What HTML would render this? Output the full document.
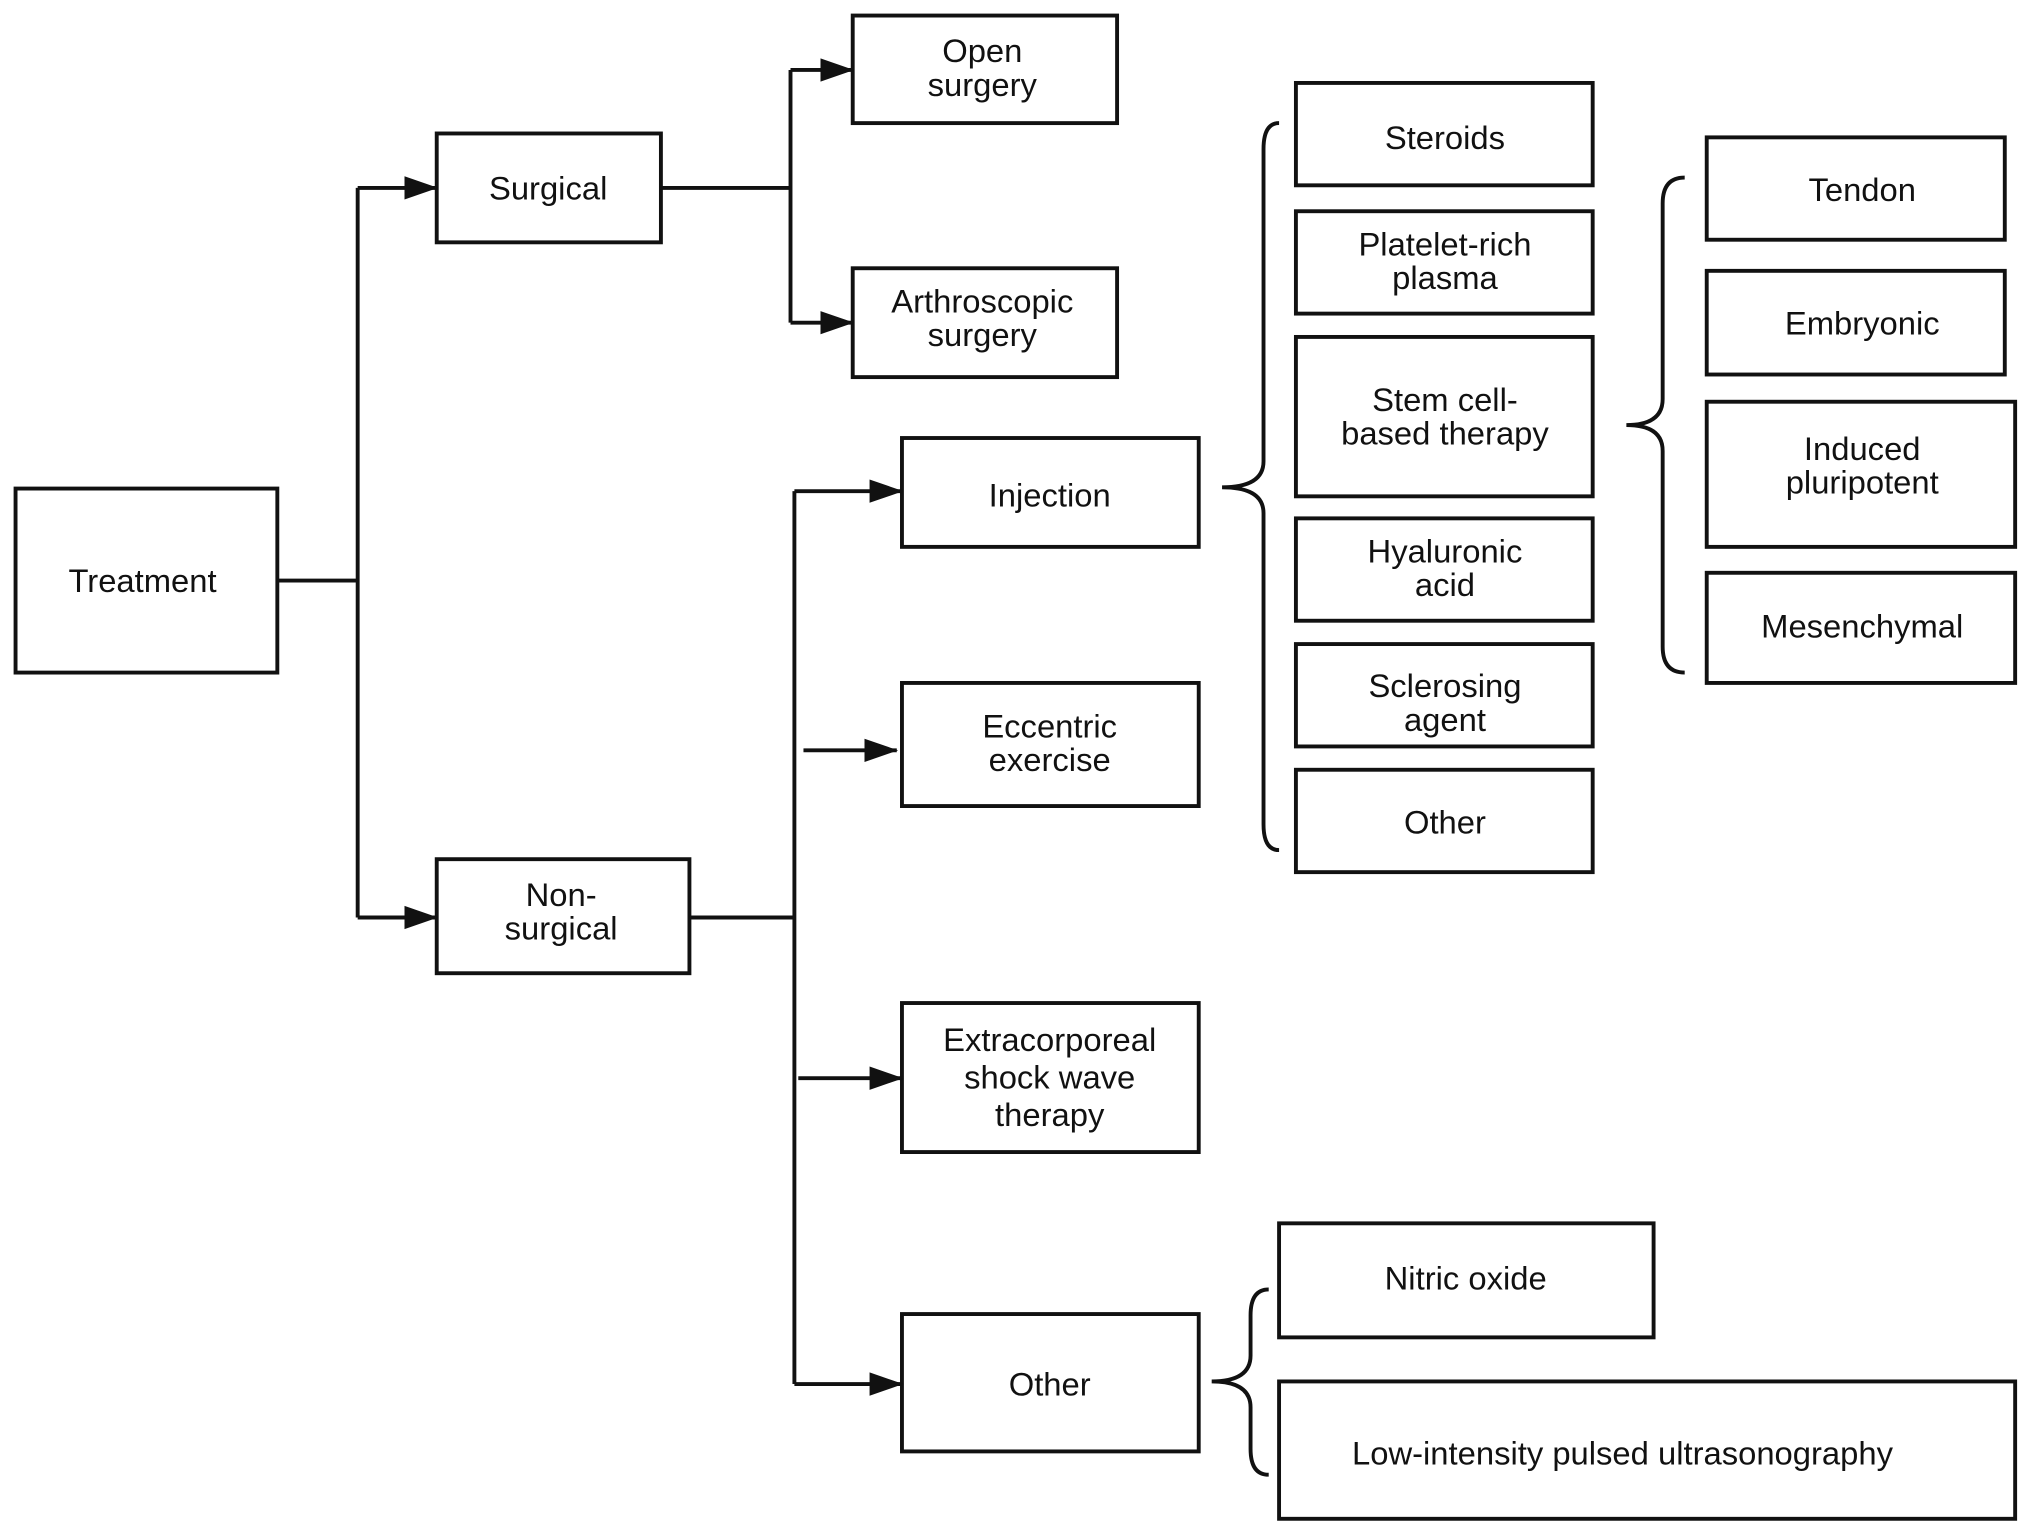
<!DOCTYPE html>
<html><head><meta charset="utf-8"><style>
html,body{margin:0;padding:0;background:#fff;}
svg{display:block;}
text{font-family:"Liberation Sans",Arial,sans-serif;font-size:25.3px;fill:#111;text-anchor:middle;}
</style></head><body>
<svg width="2032" height="1535" viewBox="0 0 1568 1184.5" preserveAspectRatio="none" xmlns="http://www.w3.org/2000/svg">
<defs><marker id="a" markerWidth="26" markerHeight="20" refX="25" refY="10" orient="auto" markerUnits="userSpaceOnUse" viewBox="0 0 26 20"><path d="M0,1 L26,10 L0,19z" fill="#111"/></marker></defs>
<g fill="none" stroke="#111" stroke-width="3">
<rect x="12" y="377" width="202" height="142"/>
<rect x="337" y="103" width="173" height="84"/>
<rect x="337" y="663" width="195" height="88"/>
<rect x="658" y="12" width="204" height="83"/>
<rect x="658" y="207" width="204" height="84"/>
<rect x="696" y="338" width="229" height="84"/>
<rect x="696" y="527" width="229" height="95"/>
<rect x="696" y="774" width="229" height="115"/>
<rect x="696" y="1014" width="229" height="106"/>
<rect x="1000" y="64" width="229" height="79"/>
<rect x="1000" y="163" width="229" height="79"/>
<rect x="1000" y="260" width="229" height="123"/>
<rect x="1000" y="400" width="229" height="79"/>
<rect x="1000" y="497" width="229" height="79"/>
<rect x="1000" y="594" width="229" height="79"/>
<rect x="1317" y="106" width="230" height="79"/>
<rect x="1317" y="209" width="230" height="80"/>
<rect x="1317" y="310" width="238" height="112"/>
<rect x="1317" y="442" width="238" height="85"/>
<rect x="987" y="944" width="289" height="88"/>
<rect x="987" y="1066" width="568" height="106"/>
<path d="M214,448 H276 M276,145 V708"/>
<path d="M276,145 H337" marker-end="url(#a)"/>
<path d="M276,708 H337" marker-end="url(#a)"/>
<path d="M510,145 H610 M610,54 V249"/>
<path d="M610,54 H658" marker-end="url(#a)"/>
<path d="M610,249 H658" marker-end="url(#a)"/>
<path d="M532,708 H613 M613,379 V1068"/>
<path d="M613,379 H696" marker-end="url(#a)"/>
<path d="M613,1068 H696" marker-end="url(#a)"/>
<path d="M620,579 H692" marker-end="url(#a)"/>
<path d="M616,832 H696" marker-end="url(#a)"/>
<path d="M987,95 Q975,95 975,115 L975,356 Q975,376 943,376 Q975,376 975,396 L975,636 Q975,656 987,656"/>
<path d="M1300,137 Q1283,137 1283,157 L1283,308 Q1283,328 1255,328 Q1283,328 1283,348 L1283,499 Q1283,519 1300,519"/>
<path d="M979,995 Q965,995 965,1015 L965,1046 Q965,1066 935,1066 Q965,1066 965,1086 L965,1118 Q965,1138 979,1138"/>
</g>
<text x="110" y="457">Treatment</text>
<text x="423" y="154">Surgical</text>
<text x="433" y="699">Non-</text><text x="433" y="725">surgical</text>
<text x="758" y="48">Open</text><text x="758" y="74">surgery</text>
<text x="758" y="241">Arthroscopic</text><text x="758" y="267">surgery</text>
<text x="810" y="391">Injection</text>
<text x="810" y="569">Eccentric</text><text x="810" y="595">exercise</text>
<text x="810" y="811">Extracorporeal</text><text x="810" y="840">shock wave</text><text x="810" y="869">therapy</text>
<text x="810" y="1077">Other</text>
<text x="1115" y="115">Steroids</text>
<text x="1115" y="197">Platelet-rich</text><text x="1115" y="223">plasma</text>
<text x="1115" y="317">Stem cell-</text><text x="1115" y="343">based therapy</text>
<text x="1115" y="434">Hyaluronic</text><text x="1115" y="460">acid</text>
<text x="1115" y="538">Sclerosing</text><text x="1115" y="564">agent</text>
<text x="1115" y="643">Other</text>
<text x="1437" y="155">Tendon</text>
<text x="1437" y="258">Embryonic</text>
<text x="1437" y="355">Induced</text><text x="1437" y="381">pluripotent</text>
<text x="1437" y="492">Mesenchymal</text>
<text x="1131" y="995">Nitric oxide</text>
<text x="1252" y="1130">Low-intensity pulsed ultrasonography</text>
</svg>
</body></html>
